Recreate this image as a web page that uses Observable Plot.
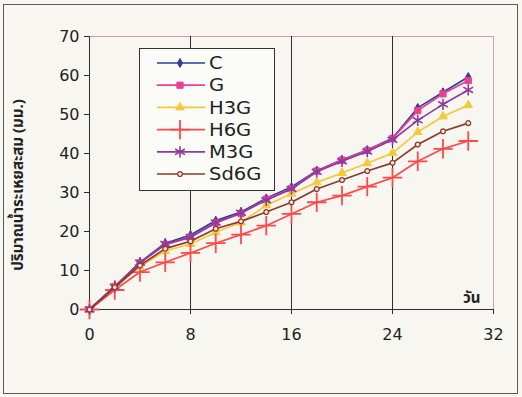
<!DOCTYPE html>
<html><head><meta charset="utf-8">
<script src="https://cdn.jsdelivr.net/npm/d3@7"></script>
<script src="https://cdn.jsdelivr.net/npm/@observablehq/plot@0.6"></script>
<style>
body{margin:0;background:#f7f6f0;}
#wrap{position:relative;width:522px;height:397px;overflow:hidden;background:#f7f6f0;}
#border{position:absolute;left:3px;top:4px;width:515px;height:390px;border:1.5px solid #5a5a5a;box-sizing:border-box;pointer-events:none;}
#chart{position:absolute;left:0;top:0;}
#ytitle{position:absolute;left:18px;top:185px;transform:translate(-50%,-50%) rotate(-90deg);white-space:nowrap;font:bold 15px "Noto Sans Thai","Tahoma","DejaVu Sans",sans-serif;color:#222;}
#legend{position:absolute;left:139px;top:48px;}
</style>
</head><body>
<div id="wrap">
<div id="chart"></div>
<div id="ytitle">ปริมาณน้ำระเหยสะสม (มม.)</div>
<div id="legend"></div>
<div id="border"></div>
</div>
<script>
// ---- data ----
const days = [0, 2, 4, 6, 8, 10, 12, 14, 16, 18, 20, 22, 24, 26, 28, 30];
const seriesNames = ["C", "G", "H3G", "H6G", "M3G", "Sd6G"];
const C    = [0, 5.9, 12.1, 17.0, 19.1, 22.8, 25.0, 28.5, 31.4, 35.6, 38.4, 40.9, 43.9, 51.7, 55.7, 59.6];
const G    = [0, 5.9, 12.0, 16.6, 18.5, 22.2, 24.6, 28.3, 31.0, 35.5, 38.3, 40.8, 43.8, 51.0, 55.3, 58.7];
const H3G  = [0, 5.6, 11.0, 15.0, 16.8, 19.8, 22.3, 26.7, 29.7, 32.6, 35.0, 37.5, 40.1, 45.5, 49.5, 52.4];
const H6G  = [0, 5.0, 9.6, 12.1, 14.5, 17.0, 19.2, 21.5, 24.5, 27.5, 29.2, 31.5, 33.8, 38.0, 41.2, 43.2];
const M3G  = [0, 5.8, 12.0, 16.8, 18.6, 22.3, 24.8, 28.0, 30.9, 35.3, 38.0, 40.5, 43.5, 48.5, 52.6, 56.3];
const Sd6G = [0, 5.7, 11.3, 15.6, 17.5, 20.7, 22.6, 25.0, 27.5, 30.9, 33.2, 35.5, 37.6, 42.3, 45.7, 47.8];
const xTicks = [0, 8, 16, 24, 32];
const yTicks = [0, 10, 20, 30, 40, 50, 60, 70];
const xGrid = [8, 16, 24];
const xLabel = "วัน";

// ---- styles ----
const values = [C, G, H3G, H6G, M3G, Sd6G];
const colors = ["#2c3f9c", "#ec3f92", "#f5c93a", "#ff4a4a", "#8b3c9e", "#8c3a2c"];
const symbols = ["diamond", "square", "triangle", "plus", "asterisk", "circle"];
const radii = [2.7, 3.5, 3.2, 6.3, 5.3, 2.4];
const fills = ["#2c3f9c", "#ec3f92", "#f5c93a", "none", "none", "#f3e2d2"];
const strokeW = [1, 1, 1, 1.8, 1.6, 1.3];

const rows = seriesNames.flatMap((s, i) => days.map((d, j) => ({series: s, day: d, value: values[i][j]})));

const marks = [
  Plot.frame({stroke: "#d79ab4", strokeWidth: 1}),
  Plot.ruleX(xGrid, {stroke: "#2e2e2e", strokeWidth: 1}),
  Plot.ruleX([0], {stroke: "#2e2e2e", strokeWidth: 1}),
  Plot.ruleY([0], {stroke: "#2e2e2e", strokeWidth: 1}),
  Plot.axisX({ticks: xTicks, tickSize: 5, tickPadding: 14, fontSize: 16, label: null, stroke: "#2e2e2e"}),
  Plot.axisY({ticks: yTicks, tickSize: 5, tickPadding: 5, fontSize: 16, label: null, stroke: "#2e2e2e"}),
  Plot.text([xLabel], {frameAnchor: "bottom-right", dx: -13, dy: -7, lineAnchor: "bottom", textAnchor: "end", fontSize: 15, fontWeight: "bold", fontFamily: "'Noto Sans Thai', Tahoma, 'DejaVu Sans', sans-serif", fill: "#222"})
];
seriesNames.forEach((s, i) => {
  const sub = rows.filter(r => r.series === s);
  marks.push(Plot.lineY(sub, {x: "day", y: "value", stroke: colors[i], strokeWidth: 1.7}));
  marks.push(Plot.dot(sub, {x: "day", y: "value", symbol: () => symbols[i], r: radii[i],
    fill: fills[i], stroke: colors[i], strokeWidth: strokeW[i]}));
});

const chart = Plot.plot({
  width: 522, height: 397,
  marginLeft: 89, marginRight: 29, marginTop: 36, marginBottom: 88,
  style: {background: "transparent", fontFamily: "'DejaVu Sans', sans-serif", color: "#222"},
  x: {domain: [0, 32]},
  y: {domain: [0, 70]},
  symbol: {type: "identity"},
  marks
});
document.getElementById("chart").appendChild(chart);

// ---- legend ----
const lw = 136, lh = 143;
const leg = d3.select("#legend").append("svg").attr("width", lw).attr("height", lh);
leg.append("rect").attr("x", 0.5).attr("y", 0.5).attr("width", lw - 1).attr("height", lh - 1)
  .attr("fill", "#fbfbf7").attr("stroke", "#333").attr("stroke-width", 1);
const symMap = {diamond: d3.symbolDiamond, square: d3.symbolSquare, triangle: d3.symbolTriangle,
  plus: d3.symbolPlus, asterisk: d3.symbolAsterisk, circle: d3.symbolCircle};
seriesNames.forEach((s, i) => {
  const y = 15 + i * 22.2;
  const g = leg.append("g").attr("transform", `translate(0,${y})`);
  g.append("line").attr("x1", 18).attr("x2", 66).attr("stroke", colors[i]).attr("stroke-width", 1.7);
  g.append("path").attr("transform", "translate(41,0)")
    .attr("d", d3.symbol(symMap[symbols[i]], Math.PI * radii[i] * radii[i])())
    .attr("fill", fills[i]).attr("stroke", colors[i]).attr("stroke-width", strokeW[i]);
  g.append("text").attr("transform", "translate(70,0) scale(1.15,1)").attr("dy", "0.36em")
    .attr("font-family", "'DejaVu Sans', sans-serif").attr("font-size", 17).attr("fill", "#222").text(s);
});
</script>
</body></html>
